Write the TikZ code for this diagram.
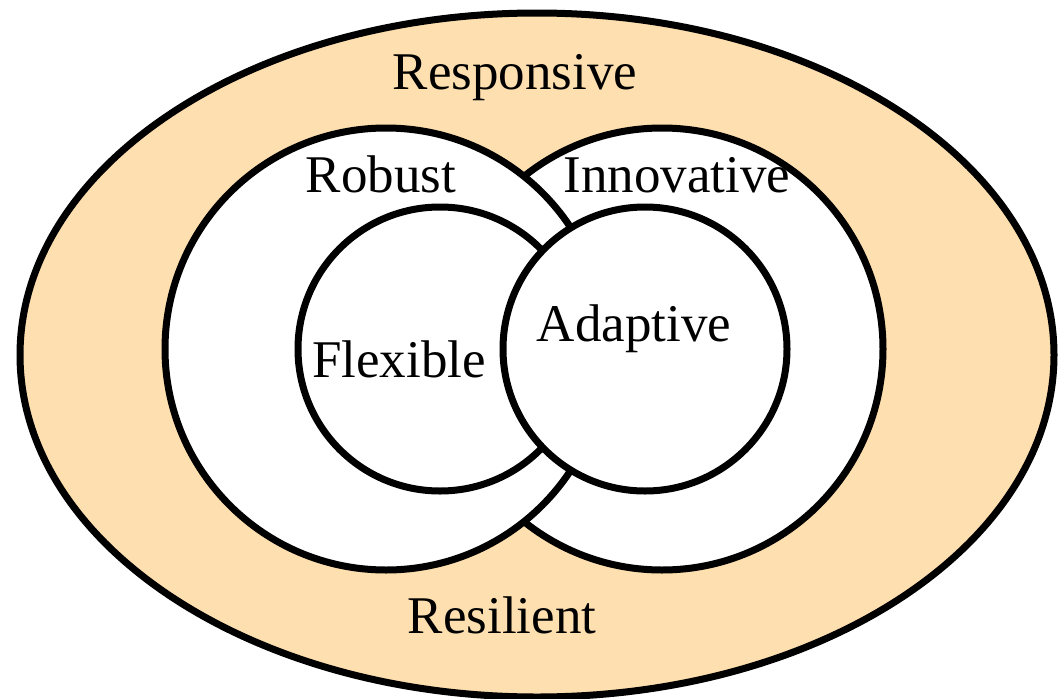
\documentclass[tikz,border=0pt]{standalone}
\usepackage{fontspec}
\setmainfont{Liberation Serif}
\usepackage{tikz}
\usetikzlibrary{shapes.geometric}
\definecolor{respfill}{RGB}{254,223,176}
\tikzstyle{outerring} = [ellipse, draw=black, fill=respfill, line width=7pt, minimum width=1034pt, minimum height=684pt, inner sep=0pt]
\tikzstyle{bigring} = [circle, draw=black, fill=white, line width=7pt, minimum size=442pt, inner sep=0pt]
\tikzstyle{smallring} = [circle, draw=black, fill=white, line width=7pt, minimum size=284pt, inner sep=0pt]
\tikzstyle{word} = [font=\fontsize{53}{60}\selectfont, anchor=base, inner sep=0pt]

\begin{document}
\begin{tikzpicture}[x=1pt, y=-1pt]
                        \useasboundingbox (0,0) rectangle (1058,699);
                        \node (responsive) [outerring] at (537,355) {};
                        \node (innovative) [bigring] at (662,349) {};
                        \node (robust) [bigring] at (386,349) {};
                        \node (flexible) [smallring] at (440,349) {};
                        \node (adaptive) [smallring] at (645,349) {};
                        \node (responsivetxt) [word] at (515,89) {Responsive};
                        \node (robusttxt) [word] at (381,192) {Robust};
                        \node (innovativetxt) [word] at (677,192) {Innovative};
                        \node (flexibletxt) [word] at (399,377) {Flexible};
                        \node (adaptivetxt) [word] at (634,341) {Adaptive};
                        \node (resilienttxt) [word] at (502,633) {Resilient};
                    \end{tikzpicture}
\end{document}
